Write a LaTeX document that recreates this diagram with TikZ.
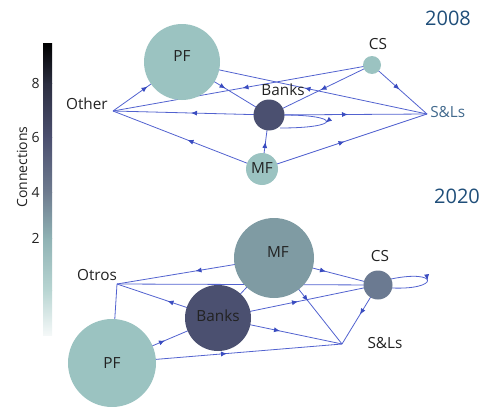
\documentclass[tikz,border=0pt]{standalone}
\usepackage{fontspec}
\setmainfont{Open Sans}
\usetikzlibrary{arrows.meta,decorations.markings,calc}
\pgfdeclarelayer{bg}
\pgfsetlayers{bg,main}
\definecolor{tealc}{HTML}{9BC3C1}
\definecolor{bankc}{HTML}{4B5070}
\definecolor{mftw}{HTML}{7F9BA3}
\definecolor{cstw}{HTML}{6B7A91}
\definecolor{edgec}{HTML}{5262CF}
\definecolor{arrc}{HTML}{3A4CC0}
\definecolor{yearc}{HTML}{1F4E79}
\definecolor{txtc}{HTML}{222222}
\definecolor{cbA}{HTML}{2B2E40}
\definecolor{cbB}{HTML}{4B4F6F}
\definecolor{cbC}{HTML}{6E7B8F}
\definecolor{cbD}{HTML}{8FB2B4}
\definecolor{cbE}{HTML}{B8D5D2}
\definecolor{cbF}{HTML}{F4F8F8}
\begin{document}
\begin{tikzpicture}[x=0.75pt,y=0.75pt,
  netnode/.style={circle,inner sep=0pt,draw=none},
  lbl/.style={font=\fontsize{11.5}{13}\selectfont,text=txtc,inner sep=0pt},
  ticklbl/.style={font=\fontsize{10.5}{12}\selectfont,text=txtc,inner sep=0pt,anchor=east},
  edgeline/.style={draw=edgec,line width=0.6pt,postaction={decorate},
    decoration={markings,mark=at position 0.5 with {\arrow[arrc]{Latex[length=4.5pt,width=3.8pt]}}}},
  plainedge/.style={draw=edgec,line width=0.6pt},
  yearlbl/.style={font=\fontsize{15}{18}\selectfont,text=yearc,inner sep=0pt}]
\useasboundingbox (0,0) rectangle (482,-407);

% colour bar
\shade[top color=black, bottom color=cbA] (43,-43) rectangle (52,-83.5);
\shade[top color=cbA, bottom color=cbB] (43,-83) rectangle (52,-137.5);
\shade[top color=cbB, bottom color=cbC] (43,-137) rectangle (52,-192.5);
\shade[top color=cbC, bottom color=cbD] (43,-192) rectangle (52,-238.5);
\shade[top color=cbD, bottom color=cbE] (43,-238) rectangle (52,-290.5);
\shade[top color=cbE, bottom color=cbF] (43,-290) rectangle (52,-335);
\node[ticklbl] (t8) at (40,-83) {8};
\node[ticklbl] (t6) at (40,-137) {6};
\node[ticklbl] (t4) at (40,-192) {4};
\node[ticklbl] (t2) at (40,-238) {2};
\node[lbl,rotate=90,font=\fontsize{10.5}{12}\selectfont] (conn) at (22,-167) {Connections};

% ===== 2008 =====
\node[yearlbl] (y8) at (448,-18) {2008};
\node[netnode,fill=tealc,minimum size=57pt] (pf8) at (182,-62) {};
\node[netnode,fill=bankc,minimum size=23.25pt] (bk8) at (269,-115) {};
\node[netnode,fill=tealc,minimum size=24pt] (mf8) at (262,-169) {};
\node[netnode,fill=tealc,minimum size=13.5pt] (cs8) at (372,-65) {};
\coordinate (oth) at (113,-111);
\coordinate (sl8) at (427,-114);

\begin{pgfonlayer}{bg}
\draw[edgeline] (oth) -- (pf8.center);
\draw[edgeline] (cs8.center) -- (oth);
\draw[edgeline] (pf8.center) -- (bk8.center);
\draw[edgeline] (bk8.center) -- (oth);
\draw[edgeline] (bk8.center) -- (sl8);
\draw[edgeline] (cs8.center) -- (bk8.center);
\draw[edgeline] (cs8.center) -- (sl8);
\draw[edgeline] (mf8.center) -- (bk8.center);
\draw[edgeline] (mf8.center) -- (oth);
\draw[edgeline] (mf8.center) -- (sl8);
\draw[edgeline] (sl8) -- (pf8.center);
\draw[edgeline] ($(bk8.center)+(14,0)$) .. controls +(58,0) and +(62,0) .. ($(bk8.center)+(11,-13)$);
\end{pgfonlayer}

\node[lbl] (pf8t) at (182,-56) {PF};
\node[lbl] (mf8t) at (262,-168) {MF};
\node[lbl] (bk8t) at (283,-90) {Banks};
\node[lbl] (cs8t) at (378,-44) {CS};
\node[lbl,anchor=east] (oth8t) at (108,-104) {Other};
\node[lbl,anchor=west,text=yearc!85!white] (sl8t) at (430,-112) {S\&Ls};

% ===== 2020 =====
\node[yearlbl] (y20) at (457,-196) {2020};
\node[netnode,fill=mftw,minimum size=60pt] (mf20) at (274,-258) {};
\node[netnode,fill=bankc,minimum size=49.5pt] (bk20) at (218,-318) {};
\node[netnode,fill=tealc,minimum size=66pt] (pf20) at (112,-363) {};
\node[netnode,fill=cstw,minimum size=21.75pt] (cs20) at (378,-285) {};
\coordinate (otr) at (117,-284);
\coordinate (sl20) at (342,-344);

\begin{pgfonlayer}{bg}
\draw[edgeline] (mf20.center) -- (otr);
\draw[edgeline] (cs20.center) -- (otr);
\draw[edgeline] (bk20.center) -- (otr);
\draw[edgeline] (pf20.center) -- (otr);
\draw[edgeline] (pf20.center) -- (bk20.center);
\draw[edgeline] (pf20.center) -- (sl20);
\draw[edgeline] (bk20.center) -- (sl20);
\draw[edgeline] (mf20.center) -- (sl20);
\draw[edgeline] (bk20.center) -- (cs20.center);
\draw[edgeline] (mf20.center) -- (cs20.center);
\draw[edgeline] (cs20.center) -- (sl20);
\draw[plainedge] (bk20.center) -- (mf20.center);
\draw[edgeline] ($(cs20.center)+(13,6)$) .. controls +(48,10) and +(48,-2) .. ($(cs20.center)+(14,-3)$);
\end{pgfonlayer}

\node[lbl] (mf20t) at (278,-252) {MF};
\node[lbl] (bk20t) at (218,-316) {Banks};
\node[lbl] (pf20t) at (112,-363) {PF};
\node[lbl] (cs20t) at (380,-256) {CS};
\node[lbl] (otr20t) at (97,-275) {Otros};
\node[lbl] (sl20t) at (385,-343) {S\&Ls};
\end{tikzpicture}
\end{document}
